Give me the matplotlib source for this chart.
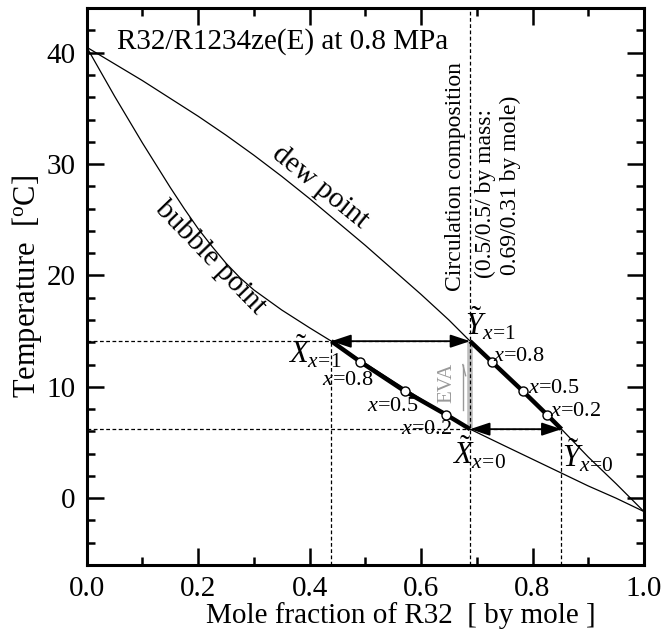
import matplotlib
matplotlib.use('Agg')
import matplotlib.pyplot as plt
from matplotlib.ticker import MultipleLocator, FixedLocator

plt.rcParams['font.family'] = ['Liberation Serif', 'DejaVu Serif']
plt.rcParams['mathtext.fontset'] = 'custom'
plt.rcParams['mathtext.rm'] = 'Liberation Serif'
plt.rcParams['mathtext.it'] = 'Liberation Serif:italic'

# ---- data ----
dew_x = [0.0, 0.05, 0.1, 0.15, 0.2, 0.25, 0.3, 0.35, 0.4, 0.45, 0.5, 0.55, 0.6,
         0.65, 0.688, 0.75, 0.8, 0.852, 0.9, 0.95, 1.0]
dew_T = [40.5, 39.0, 37.5, 35.9, 34.3, 32.6, 30.8, 28.9, 26.9, 24.8, 22.7, 20.5,
         18.3, 16.0, 14.1, 11.1, 8.7, 6.2, 3.7, 1.3, -1.2]
bub_x = [0.0, 0.025, 0.05, 0.075, 0.1, 0.125, 0.15, 0.175, 0.2, 0.225, 0.25, 0.275,
         0.3, 0.35, 0.4, 0.439, 0.5, 0.55, 0.6, 0.65, 0.688, 0.75, 0.8, 0.85, 0.9,
         0.95, 1.0]
bub_T = [40.5, 38.3, 36.1, 34.0, 31.9, 29.9, 27.9, 26.0, 24.2, 22.6, 21.1, 19.8,
         18.7, 16.9, 15.3, 14.1, 12.1, 10.5, 8.9, 7.4, 6.2, 4.7, 3.5, 2.3, 1.1,
         0.0, -1.2]
liq_x = [0.439, 0.491, 0.571, 0.645, 0.688]
liq_T = [14.1, 12.25, 9.6, 7.5, 6.2]
vap_x = [0.688, 0.727, 0.783, 0.826, 0.852]
vap_T = [14.1, 12.25, 9.6, 7.5, 6.2]
path_labels = ['=0.8', '=0.5', '=0.2']
x_circ = 0.688
T_hi = 14.1
T_lo = 6.2
x_liq_end = 0.439
x_vap_end = 0.852
xticks = [0.0, 0.2, 0.4, 0.6, 0.8, 1.0]
xticklabels = ['0.0', '0.2', '0.4', '0.6', '0.8', '1.0']
yticks = [0, 10, 20, 30, 40]

fig = plt.figure(figsize=(6.68, 6.32), dpi=100)
ax = fig.add_axes([0.1298, 0.106, 0.8342, 0.881])
ax.set_xlim(0, 1)
ax.set_ylim(-6, 44)

# curves
ax.plot(dew_x, dew_T, color='black', lw=0.9)
ax.plot(bub_x, bub_T, color='black', lw=0.9)

# dashed guide lines
dash = dict(color='black', lw=0.9, ls=(0, (3, 2)))
ax.plot([0, x_circ], [T_hi, T_hi], **dash)
ax.plot([0, x_vap_end], [T_lo, T_lo], **dash)
ax.plot([x_liq_end, x_liq_end], [-6, T_hi], **dash)
ax.plot([x_vap_end, x_vap_end], [-6, T_lo], **dash)
# gray EVA band
ax.plot([x_circ, x_circ], [T_lo, T_hi], color='#bdbdbd', lw=4, solid_capstyle='butt')
ax.plot([x_circ, x_circ], [-6, 44], **dash)

# arrows
arr = dict(arrowstyle='<|-|>,head_length=0.6,head_width=0.2', color='black',
           lw=1.3, shrinkA=0, shrinkB=0, mutation_scale=20)
ax.annotate('', xy=(x_liq_end, T_hi), xytext=(x_circ, T_hi), arrowprops=arr)
ax.annotate('', xy=(x_circ, T_lo), xytext=(x_vap_end, T_lo), arrowprops=arr)

# thick paths
ax.plot(liq_x, liq_T, color='black', lw=3.2, solid_capstyle='butt')
ax.plot(vap_x, vap_T, color='black', lw=3.2, solid_capstyle='butt')
ax.plot(liq_x[1:4], liq_T[1:4], 'o', ms=6.5, mfc='white', mec='black', mew=1.0)
ax.plot(vap_x[1:4], vap_T[1:4], 'o', ms=6.5, mfc='white', mec='black', mew=1.0)

# small labels along paths
liq_lab_pos = [(0.422, 10.2), (0.503, 7.8), (0.564, 5.75)]
vap_lab_pos = [(0.73, 12.3), (0.792, 9.45), (0.832, 7.4)]
for (px, py), lab in zip(liq_lab_pos, path_labels):
    ax.text(px, py, '$x$' + lab, fontsize=16, ha='left', va='baseline')
for (px, py), lab in zip(vap_lab_pos, path_labels):
    ax.text(px, py, '$x$' + lab, fontsize=16, ha='left', va='baseline')

# point labels
ax.text(x_liq_end + 0.018, 12.1, r'$\tilde{X}_{x\!=\!1}$', fontsize=22, ha='right', va='baseline')
ax.text(0.678, 14.6, r'$\tilde{Y}_{x\!=\!1}$', fontsize=22, ha='left', va='baseline')
ax.text(0.655, 3.0, r'$\tilde{X}_{x\!=\!0}$', fontsize=22, ha='left', va='baseline')
ax.text(0.853, 2.8, r'$\tilde{Y}_{x\!=\!0}$', fontsize=22, ha='left', va='baseline')

# EVA
ax.text(0.647, 10.4, 'EVA', fontsize=15, color='#999999', rotation=90,
        ha='center', va='center')
ax.plot([0.675, 0.675], [7.9, 12.0], color='#999999', lw=1.0)
ax.plot([0.675, 0.680], [12.0, 11.0], color='#999999', lw=1.0)

# curve labels
ax.text(0.419, 27.9, 'dew point', fontsize=21, rotation=-39, ha='center', va='center',
        rotation_mode='anchor')
ax.text(0.221, 21.6, 'bubble point', fontsize=21, rotation=-46, ha='center', va='center',
        rotation_mode='anchor')

# title
ax.text(0.055, 40.4, 'R32/R1234ze(E) at 0.8 MPa', fontsize=21, ha='left', va='baseline')

# circulation composition
ax.text(0.661, 28.9, 'Circulation composition', fontsize=17, rotation=90,
        ha='center', va='center')
ax.text(0.715, 27.4, '(0.5/0.5/ by mass:', fontsize=17, rotation=90,
        ha='center', va='center')
ax.text(0.760, 28.1, '0.69/0.31 by mole)', fontsize=17, rotation=90,
        ha='center', va='center')

# axes styling
ax.xaxis.set_major_locator(FixedLocator(xticks))
ax.set_xticklabels(xticklabels)
ax.xaxis.set_minor_locator(MultipleLocator(0.1))
ax.yaxis.set_major_locator(FixedLocator(yticks))
ax.yaxis.set_minor_locator(MultipleLocator(2))
ax.tick_params(which='both', direction='in', top=True, right=True, labelsize=21, width=1.8)
ax.tick_params(which='major', length=12, pad=8)
ax.tick_params(which='minor', length=6)
for s in ax.spines.values():
    s.set_linewidth(2.2)
ax.set_xlabel('Mole fraction of R32  [ by mole ]', fontsize=21, va='top')
ax.xaxis.set_label_coords(0.564, -0.066)
ax.set_ylabel('Temperature  [$^{\\rm o}$C]', fontsize=22)
ax.yaxis.set_label_coords(-0.077, 0.5)

fig.savefig('out.png', dpi=100)
